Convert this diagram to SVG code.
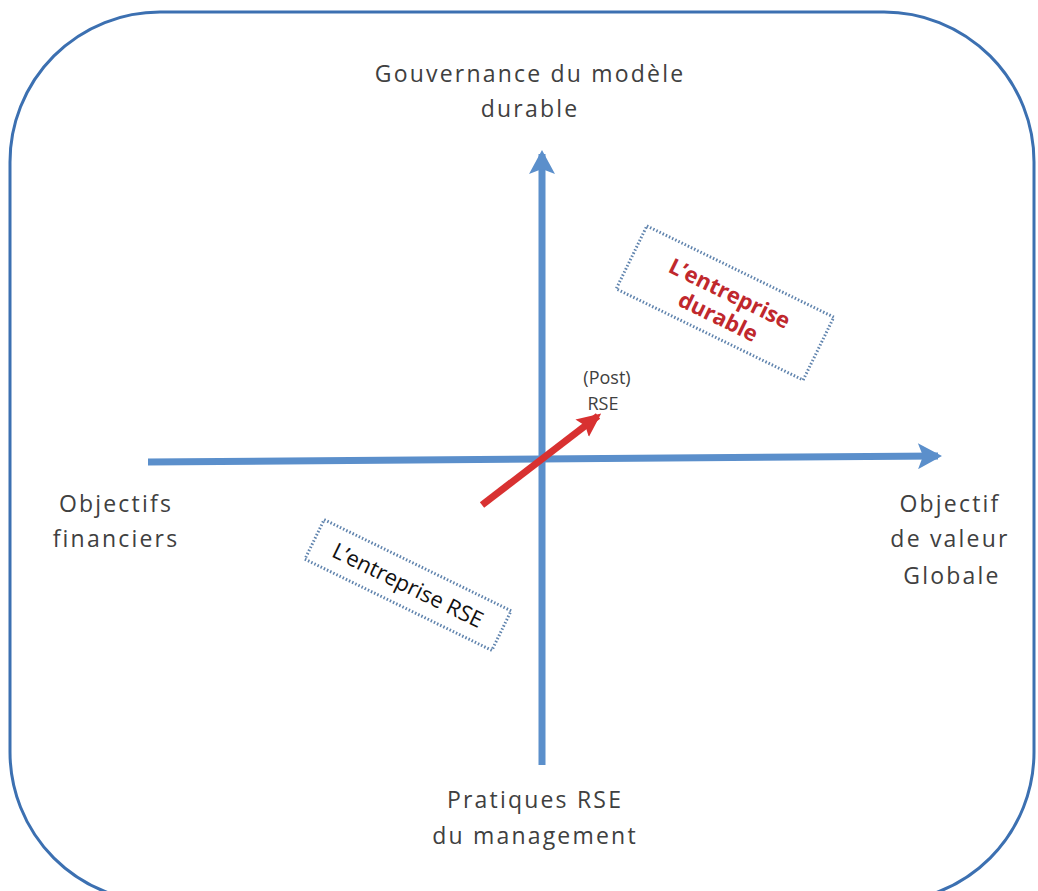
<svg xmlns="http://www.w3.org/2000/svg" width="1038" height="891" viewBox="0 0 1038 891">
<style>
.lbl{font-family:"Open Sans","Liberation Sans",sans-serif;font-size:23px;fill:#404040;text-anchor:middle;letter-spacing:2.2px}
.sm{font-family:"Open Sans","Liberation Sans",sans-serif;font-size:18px;fill:#404040;text-anchor:middle}
.box{fill:none;stroke:#5f83ad;stroke-width:3;stroke-dasharray:1.5 2}
.axis{stroke:#5b8fcb;stroke-width:7;fill:none}
.bt{font-family:"Open Sans","Liberation Sans",sans-serif;font-size:22px;text-anchor:middle}
</style>
<defs>
<marker id="ab" markerUnits="userSpaceOnUse" markerWidth="26" markerHeight="26" viewBox="0 0 24 26" refX="20" refY="13" orient="auto">
<path d="M0,0 L24,13 L0,26 L5,13 Z" fill="#5b8fcb"/>
</marker>
<marker id="ar" markerUnits="userSpaceOnUse" markerWidth="24" markerHeight="24" viewBox="0 0 24 22" refX="20" refY="11" orient="auto">
<path d="M0,0 L24,11 L0,22 L4,11 Z" fill="#d83131"/>
</marker>
</defs>
<rect id="frame" x="10" y="12" width="1024" height="890" rx="150" ry="150" fill="none" stroke="#3c70b1" stroke-width="3"/>
<g id="connectors">
<line class="axis" x1="148" y1="462" x2="938" y2="456" marker-end="url(#ab)"/>
<line class="axis" x1="542" y1="765" x2="542" y2="154" marker-end="url(#ab)"/>
<line x1="482" y1="505" x2="598" y2="416" stroke="#d83131" stroke-width="7" marker-end="url(#ar)"/>
</g>
<g id="top-label"><text class="lbl" x="530" y="82">Gouvernance du modèle</text><text class="lbl" x="530" y="117">durable</text></g>
<g id="left-label"><text class="lbl" x="116" y="512">Objectifs</text><text class="lbl" x="116" y="547">financiers</text></g>
<g id="right-label"><text class="lbl" x="950" y="512">Objectif</text><text class="lbl" x="950" y="547">de valeur</text><text class="lbl" x="952" y="584">Globale</text></g>
<g id="bottom-label"><text class="lbl" x="535" y="808">Pratiques RSE</text><text class="lbl" x="535" y="844">du management</text></g>
<g id="post-rse"><text class="sm" x="607" y="384">(Post)</text><text class="sm" x="603" y="410">RSE</text></g>
<g id="durable" transform="rotate(26 725 303)">
<rect class="box" x="621" y="268" width="208" height="70"/>
<text class="bt" x="725" y="300" font-weight="bold" fill="#c0282d">L’entreprise</text>
<text class="bt" x="725" y="326" font-weight="bold" fill="#c0282d">durable</text>
</g>
<g id="rse" transform="rotate(26 408 585)">
<rect class="box" x="304" y="563" width="208" height="44"/>
<text class="bt" x="408" y="593" fill="#111">L’entreprise RSE</text>
</g>
</svg>
